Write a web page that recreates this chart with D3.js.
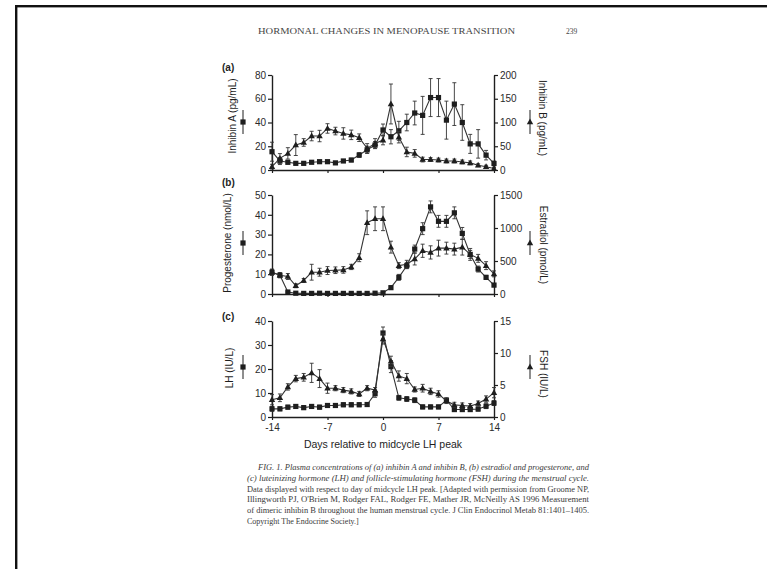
<!DOCTYPE html>
<html>
<head>
<meta charset="utf-8">
<script src="https://cdn.jsdelivr.net/npm/d3@7"></script>
<style>
  html, body { margin: 0; padding: 0; background: #fff; }
  svg { display: block; }
</style>
</head>
<body>
<svg id="chart" width="767" height="569"></svg>
<script>
// ---------------- DATA ----------------
const days = [-14,-13,-12,-11,-10,-9,-8,-7,-6,-5,-4,-3,-2,-1,0,1,2,3,4,5,6,7,8,9,10,11,12,13,14];
const xTickValues = [-14, -7, 0, 7, 14];
const xTickLabels = ["-14", "-7", "0", "7", "14"];

// (a) inhibin A (pg/mL, left axis, squares) and inhibin B (pg/mL, right axis, triangles)
const inhibinA    = [15.4,7.6,6.5,5.6,5.6,6.5,7,7,6,7.6,8.4,12.6,17,21,33.7,28,33,40,48,46,61,61,42,55.5,40,22,22,12.5,5.5];
const inhibinAErr = [8,3,1.5,1,1,1,1,1,1,1,1.5,2,3,3,5,6,8,7,10,16,16,16,16,18,15,8,12,4,2];
const inhibinB    = [7,24.5,35,52.5,58,71.5,71.5,87.5,82,77,74,68,45.5,56,63,139,69,38,35,22,22,21,19,19,17,15,10,7,3];
const inhibinBErr = [5,10,12,22,8,10,12,10,8,12,10,8,10,10,10,42,12,10,8,5,4,4,4,4,4,4,3,3,2];

// (b) progesterone (nmol/L, left axis, squares) and estradiol (pmol/L, right axis, triangles)
const progesterone = [11,9.5,1,0.4,0.3,0.3,0.4,0.3,0.3,0.3,0.3,0.3,0.3,0.4,0.6,3.2,8.4,14.3,22.7,33,44,36.7,36.7,41,30.6,20,12.6,8.4,4.5];
const progErr      = [1.5,1,0.3,0.2,0.2,0.2,0.2,0.2,0.2,0.2,0.2,0.2,0.2,0.2,0.3,0.8,1.5,1.5,2,3,3,3,3,3,3,2,1.5,1,0.8];
const estradiol    = [330,285,265,125,205,330,330,355,360,365,410,550,1080,1140,1140,710,430,450,530,655,630,695,695,680,710,600,540,430,305];
const estradiolErr = [45,40,45,30,30,120,60,60,50,50,40,60,180,180,180,90,45,60,90,100,100,120,90,90,120,90,60,60,45];

// (c) LH (IU/L, left axis, squares) and FSH (IU/L, right axis, triangles)
const lh     = [3.4,3.4,4.1,4.4,3.9,4.4,4.1,4.8,4.8,5.1,5.1,5.1,5.2,9.7,35,21,8,7.5,7,4.2,4.2,4.2,7,3.1,3.1,3.1,3.3,4.5,5.8];
const lhErr  = [1,0.8,0.8,0.8,0.8,0.8,0.8,0.8,0.8,0.8,0.8,0.8,0.8,1.5,2.5,2.5,1,1,1,0.8,0.8,0.8,1,0.8,0.8,0.8,0.8,1,1];
const fsh    = [2.7,3.0,4.7,6.0,6.2,6.9,6.0,4.5,4.5,4.2,4.0,3.6,4.5,4.2,12.2,8.7,6.4,6.0,4.3,4.5,4.0,3.6,2.5,1.9,1.8,1.7,2.1,2.8,3.8];
const fshErr = [0.8,0.6,0.5,0.5,0.6,1.5,1.4,0.8,0.4,0.4,0.4,0.4,0.4,0.4,0.8,0.8,0.8,0.8,0.4,0.6,0.5,0.5,0.4,0.4,0.4,0.4,0.4,0.5,0.8];

// texts
const headerText = "HORMONAL CHANGES IN MENOPAUSE TRANSITION";
const pageNumber = "239";
const xTitle = "Days relative to midcycle LH peak";
const captionLines = [
  "FIG. 1. Plasma concentrations of (a) inhibin A and inhibin B, (b) estradiol and progesterone, and",
  "(c) luteinizing hormone (LH) and follicle-stimulating hormone (FSH) during the menstrual cycle.",
  "Data displayed with respect to day of midcycle LH peak. [Adapted with permission from Groome NP,",
  "Illingworth PJ, O'Brien M, Rodger FAL, Rodger FE, Mather JR, McNeilly AS 1996 Measurement",
  "of dimeric inhibin B throughout the human menstrual cycle. J Clin Endocrinol Metab 81:1401–1405.",
  "Copyright The Endocrine Society.]"
];

// ---------------- LAYOUT ----------------
const svg = d3.select("#chart");
const INK = "#1e1e1e";
const SANS = "'Liberation Sans', Arial, sans-serif";
const SERIF = "'Liberation Serif', 'Times New Roman', serif";

svg.append("rect").attr("width", 767).attr("height", 569).attr("fill", "#fff");
// page border (top and left)
svg.append("rect").attr("x", 15).attr("y", 5).attr("width", 752).attr("height", 2.4).attr("fill", "#111");
svg.append("rect").attr("x", 15).attr("y", 5).attr("width", 2.4).attr("height", 564).attr("fill", "#111");

// header
svg.append("text").attr("x", 258).attr("y", 34).attr("font-family", SERIF).attr("font-size", 7.5)
  .attr("fill", "#444").attr("textLength", 257).attr("lengthAdjust", "spacingAndGlyphs").text(headerText);
svg.append("text").attr("x", 566).attr("y", 34).attr("font-family", SERIF).attr("font-size", 7.5)
  .attr("fill", "#444").text(pageNumber);

const x = d3.scaleLinear().domain([-14, 14]).range([272, 494]);

const panels = [
  { label: "(a)", top: 75, bottom: 170, labelY: 71,
    L: { domain: [0, 80], ticks: [0, 20, 40, 60, 80], title: "Inhibin A (pg/mL)", vals: inhibinA, err: inhibinAErr, tx: 232, ty: 116 },
    R: { domain: [0, 200], ticks: [0, 50, 100, 150, 200], title: "Inhibin B (pg/mL)", vals: inhibinB, err: inhibinBErr, tx: 542, ty: 118 },
    legY: 122, xLabels: false },
  { label: "(b)", top: 195, bottom: 294, labelY: 186,
    L: { domain: [0, 50], ticks: [0, 10, 20, 30, 40, 50], title: "Progesterone (nmol/L)", vals: progesterone, err: progErr, tx: 227, ty: 243 },
    R: { domain: [0, 1500], ticks: [0, 500, 1000, 1500], title: "Estradiol (pmol/L)", vals: estradiol, err: estradiolErr, tx: 543, ty: 245 },
    legY: 243, xLabels: false },
  { label: "(c)", top: 321, bottom: 417, labelY: 320,
    L: { domain: [0, 40], ticks: [0, 10, 20, 30, 40], title: "LH (IU/L)", vals: lh, err: lhErr, tx: 229, ty: 368 },
    R: { domain: [0, 15], ticks: [0, 5, 10, 15], title: "FSH (IU/L)", vals: fsh, err: fshErr, tx: 543, ty: 374 },
    legY: 367, xLabels: true }
];

const sqSize = 5.2, triSize = 6.4;
function drawSquare(g, cx, cy) {
  g.append("rect").attr("x", cx - sqSize / 2).attr("y", cy - sqSize / 2)
    .attr("width", sqSize).attr("height", sqSize).attr("fill", INK);
}
function triPath(cx, cy) {
  const h = triSize * 0.9, w = triSize;
  return `M${cx},${cy - h * 0.6}L${cx + w / 2},${cy + h * 0.4}L${cx - w / 2},${cy + h * 0.4}Z`;
}
function drawTri(g, cx, cy) {
  g.append("path").attr("d", triPath(cx, cy)).attr("fill", INK);
}

function styleAxis(g) {
  g.selectAll("path.domain").attr("stroke", INK).attr("stroke-width", 1.4);
  g.selectAll(".tick line").attr("stroke", INK).attr("stroke-width", 1.2);
  g.selectAll(".tick text").attr("fill", "#2a2a2a").attr("font-family", SANS).attr("font-size", 10);
  g.attr("font-family", SANS);
}
const fmt = d3.format("d");

panels.forEach(p => {
  const yL = d3.scaleLinear().domain(p.L.domain).range([p.bottom, p.top]);
  const yR = d3.scaleLinear().domain(p.R.domain).range([p.bottom, p.top]);
  const g = svg.append("g");

  // axes
  const gx = g.append("g").attr("transform", `translate(0,${p.bottom})`)
    .call(d3.axisBottom(x).tickValues(xTickValues).tickSize(3).tickSizeOuter(0).tickPadding(4)
      .tickFormat((d, i) => p.xLabels ? xTickLabels[i] : ""));
  styleAxis(gx);
  const gl = g.append("g").attr("transform", `translate(${x(-14)},0)`)
    .call(d3.axisLeft(yL).tickValues(p.L.ticks).tickSize(4).tickSizeOuter(0).tickPadding(2).tickFormat(fmt));
  styleAxis(gl);
  const gr = g.append("g").attr("transform", `translate(${x(14)},0)`)
    .call(d3.axisRight(yR).tickValues(p.R.ticks).tickSize(4).tickSizeOuter(0).tickPadding(2).tickFormat(fmt));
  styleAxis(gr);

  // panel label
  g.append("text").attr("x", 222).attr("y", p.labelY).attr("font-family", SANS).attr("font-size", 10)
    .attr("font-weight", "bold").attr("fill", INK).text(p.label);

  // axis titles
  g.append("text").attr("transform", `translate(${p.L.tx},${p.L.ty}) rotate(-90)`)
    .attr("text-anchor", "middle").attr("dominant-baseline", "central")
    .attr("font-family", SANS).attr("font-size", 10).attr("fill", INK).text(p.L.title);
  g.append("text").attr("transform", `translate(${p.R.tx},${p.R.ty}) rotate(90)`)
    .attr("text-anchor", "middle").attr("dominant-baseline", "central")
    .attr("font-family", SANS).attr("font-size", 10).attr("fill", INK).text(p.R.title);

  // legend symbols next to titles
  const lg = g.append("g");
  lg.append("line").attr("x1", 243).attr("x2", 243).attr("y1", p.legY - 12).attr("y2", p.legY + 12)
    .attr("stroke", INK).attr("stroke-width", 1);
  drawSquare(lg, 243, p.legY);
  lg.append("line").attr("x1", 530).attr("x2", 530).attr("y1", p.legY - 12).attr("y2", p.legY + 12)
    .attr("stroke", INK).attr("stroke-width", 1);
  drawTri(lg, 530, p.legY);

  // series
  [[p.L, yL, "sq"], [p.R, yR, "tri"]].forEach(([s, y, kind]) => {
    const pts = days.map((d, i) => ({ d, v: s.vals[i], e: s.err[i] }));
    g.append("path").datum(pts)
      .attr("d", d3.line().x(q => x(q.d)).y(q => y(q.v)))
      .attr("fill", "none").attr("stroke", "#333").attr("stroke-width", 1.1);
    const eg = g.append("g").attr("stroke", "#333").attr("stroke-width", 0.9);
    pts.forEach(q => {
      const lo = y(Math.max(s.domain[0], q.v - q.e)), hi = y(q.v + q.e), cx = x(q.d);
      eg.append("line").attr("x1", cx).attr("x2", cx).attr("y1", lo).attr("y2", hi);
      eg.append("line").attr("x1", cx - 2).attr("x2", cx + 2).attr("y1", hi).attr("y2", hi);
      eg.append("line").attr("x1", cx - 2).attr("x2", cx + 2).attr("y1", lo).attr("y2", lo);
    });
    pts.forEach(q => {
      if (kind === "sq") drawSquare(g, x(q.d), y(q.v));
      else drawTri(g, x(q.d), y(q.v));
    });
  });
});

// x axis title
svg.append("text").attr("x", 383).attr("y", 448).attr("text-anchor", "middle")
  .attr("font-family", SANS).attr("font-size", 10.5).attr("fill", INK).text(xTitle);

// caption
const capG = svg.append("g").attr("font-family", SERIF).attr("font-size", 8).attr("fill", "#3a3a3a");
captionLines.forEach((t, i) => {
  const x0 = i === 0 ? 258 : 247;
  const tx = capG.append("text").attr("x", x0).attr("y", 470 + i * 10.8).text(t);
  if (i < captionLines.length - 1) tx.attr("textLength", 589 - x0).attr("lengthAdjust", "spacingAndGlyphs");
  if (i === 1 || i === 0) tx.attr("font-style", "italic");
});
</script>
</body>
</html>
